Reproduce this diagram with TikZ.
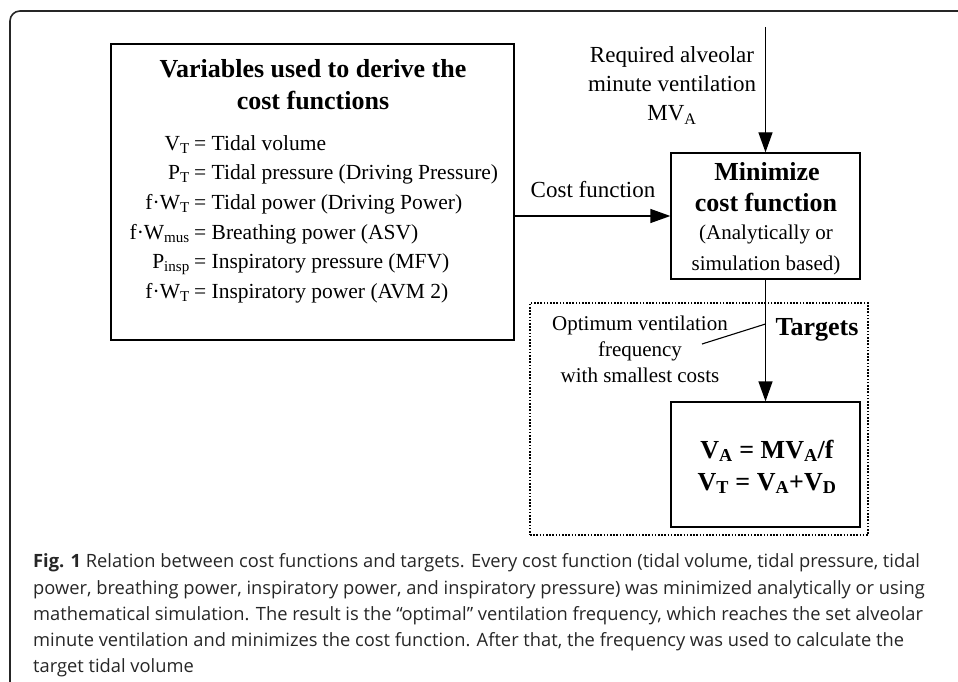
\documentclass[tikz,border=0pt]{standalone}
\usepackage{fontspec}
\setmainfont{Liberation Serif}
\newfontfamily\capfont{Open Sans}
\usetikzlibrary{arrows.meta}

\begin{document}
\begin{tikzpicture}[x=1pt,y=-1pt,
  box/.style={draw=black, line width=1.3pt, inner sep=0pt, fill=none},
  dotbox/.style={draw=black, line width=1.2pt, dash pattern=on 1.6pt off 1.6pt, inner sep=0pt},
  txt/.style={inner sep=0pt, anchor=base, font=\fontsize{21}{25}\selectfont},
  bigtxt/.style={inner sep=0pt, anchor=base, font=\fontsize{23}{27}\selectfont},
  btxt/.style={inner sep=0pt, anchor=base, font=\fontsize{26}{30}\selectfont\bfseries},
  lvar/.style={inner sep=0pt, anchor=base east, font=\fontsize{21.5}{25}\selectfont},
  rvar/.style={inner sep=0pt, anchor=base west, font=\fontsize{21.5}{25}\selectfont},
  flow/.style={line width=1.3pt, -{Triangle[length=20pt,width=14pt]}},
  captxt/.style={inner sep=0pt, anchor=base west, text=black!85,
    font=\capfont\fontsize{18.3}{22}\selectfont},
  framecol/.style={draw=black!85, line width=1.6pt}
]
\useasboundingbox (0,0) rectangle (958,682);

% outer frame, open to the right and bottom
\draw[framecol, rounded corners=10pt] (960,11) -- (10,11) -- (10,690);

% left box with the list of variables
\node[box, minimum width=403pt, minimum height=296pt] (vars) at (312.5,192) {};
\node[btxt] (title1) at (313,78) {Variables used to derive the};
\node[btxt] (title2) at (313,110) {cost functions};

\foreach \i/\l/\r in {
  1/{V\textsubscript{T}}/{= Tidal volume},
  2/{P\textsubscript{T}}/{= Tidal pressure (Driving Pressure)},
  3/{f·W\textsubscript{T}}/{= Tidal power (Driving Power)},
  4/{f·W\textsubscript{mus}}/{= Breathing power (ASV)},
  5/{P\textsubscript{insp}}/{= Inspiratory pressure (MFV)},
  6/{f·W\textsubscript{T}}/{= Inspiratory power (AVM 2)}}{
  \node[lvar] (lv\i) at (190,{150+29.7*(\i-1)}) {\l};
  \node[rvar] (rv\i) at (194,{150+29.7*(\i-1)}) {\r};
}

% minimisation box
\node[box, minimum width=189pt, minimum height=126pt] (mini) at (765.5,216) {};
\node[btxt] (mini1) at (767,180) {Minimize};
\node[btxt] (mini2) at (766,211) {cost function};
\node[txt] (mini3) at (766,239) {(Analytically or};
\node[txt] (mini4) at (766,270) {simulation based)};

% required ventilation input
\coordinate (mvtop) at (765.5,27);
\node[bigtxt] (req1) at (672,63) {Required alveolar};
\node[bigtxt] (req2) at (672,92) {minute ventilation};
\node[bigtxt] (req3) at (672,121) {MV\textsubscript{A}};
\draw[flow] (mvtop) -- (mini.north);

% cost function connector
\draw[flow] (vars.east |- mini.west) -- (mini.west);
\node[bigtxt] (costlbl) at (593,197) {Cost function};

% targets region
\node[dotbox, minimum width=338pt, minimum height=232pt] (targets) at (699,419) {};
\node[btxt] (tgtlbl) at (817,335) {Targets};
\node[txt] (opt1) at (640,330) {Optimum ventilation};
\node[txt] (opt2) at (640,356) {frequency};
\node[txt] (opt3) at (640,382) {with smallest costs};

\node[box, minimum width=189pt, minimum height=125pt] (tgt) at (765.5,464.5) {};
\node[btxt] (eq1) at (767,458) {V\textsubscript{A} = MV\textsubscript{A}/f};
\node[btxt] (eq2) at (767,490) {V\textsubscript{T} = V\textsubscript{A}+V\textsubscript{D}};

\draw[flow] (mini.south) -- (tgt.north);
\coordinate (ptA) at (702,344);
\coordinate (ptB) at (765.5,324);
\draw[line width=1.1pt] (ptA) -- (ptB);

% caption
\node[captxt] (cap1) at (33,567) {\textbf{Fig. 1} Relation between cost functions and targets. Every cost function (tidal volume, tidal pressure, tidal};
\node[captxt] (cap2) at (33,594) {power, breathing power, inspiratory power, and inspiratory pressure) was minimized analytically or using};
\node[captxt] (cap3) at (33,620) {mathematical simulation. The result is the “optimal” ventilation frequency, which reaches the set alveolar};
\node[captxt] (cap4) at (33,646) {minute ventilation and minimizes the cost function. After that, the frequency was used to calculate the};
\node[captxt] (cap5) at (33,672) {target tidal volume};
\end{tikzpicture}
\end{document}
